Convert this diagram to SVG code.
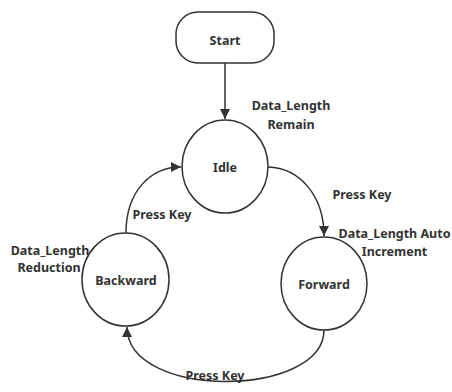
<svg xmlns="http://www.w3.org/2000/svg" width="452" height="392" viewBox="0 0 452 392">
  <defs>
    <marker id="arrow" viewBox="0 0 10 10" refX="10" refY="5" markerWidth="10" markerHeight="10" markerUnits="userSpaceOnUse" orient="auto">
      <path d="M0,0 L10,5 L0,10 z" fill="#333"/>
    </marker>
    <style>
      .node { fill: #fff; stroke: #333; stroke-width: 1.5; }
      .edge { fill: none; stroke: #333; stroke-width: 1.5; marker-end: url(#arrow); }
      text { font-family: "Noto Sans", "Open Sans", "Liberation Sans", sans-serif; font-weight: bold; font-size: 12.5px; fill: #333; text-anchor: middle; }
    </style>
  </defs>
  <rect width="452" height="392" fill="#fff"/>

  <g id="connectors">
    <path class="edge" d="M225,63 L225,119"/>
    <path class="edge" d="M268,167 C300,168 324,196 324,236"/>
    <path class="edge" d="M324,330 C324,398 127,400 127,327"/>
    <path class="edge" d="M126,233 C126,192 150,167 181,167"/>
  </g>

  <g id="start">
    <rect class="node" x="176" y="12" width="98" height="51" rx="22" ry="22"/>
    <text x="225" y="45">Start</text>
  </g>

  <g id="idle">
    <ellipse class="node" cx="225" cy="166.5" rx="43" ry="46.5"/>
    <text x="225" y="172">Idle</text>
  </g>

  <g id="backward">
    <ellipse class="node" cx="125.5" cy="279.5" rx="43.5" ry="46.5"/>
    <text x="126" y="285">Backward</text>
  </g>

  <g id="forward">
    <ellipse class="node" cx="324" cy="283.5" rx="43" ry="46.5"/>
    <text x="324" y="289">Forward</text>
  </g>

  <g id="labels">
    <text x="291" y="110">Data_Length</text>
    <text x="291" y="129">Remain</text>
    <text x="362" y="199">Press Key</text>
    <text x="394.5" y="238">Data_Length Auto</text>
    <text x="394.5" y="256">Increment</text>
    <text x="162" y="219">Press Key</text>
    <text x="50" y="255">Data_Length</text>
    <text x="49" y="272">Reduction</text>
    <text x="215" y="380">Press Key</text>
  </g>
</svg>
